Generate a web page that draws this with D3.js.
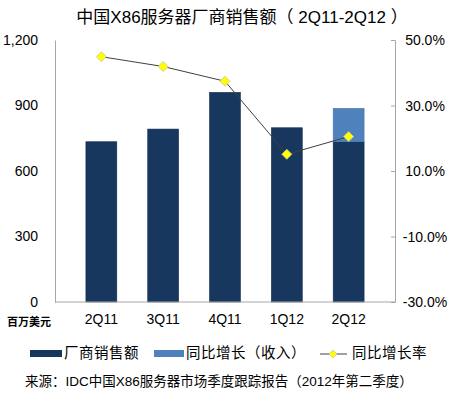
<!DOCTYPE html>
<html>
<head>
<meta charset="utf-8">
<script src="https://cdn.jsdelivr.net/npm/d3@7"></script>
<style>
  body { margin: 0; background: #fff; }
  svg text { font-family: "Liberation Sans", "Noto Sans CJK SC", sans-serif; fill: #000; }
  .axis path, .axis line { stroke: #a6a6a6; }
</style>
</head>
<body>
<div class="chart"></div>
<script>
const width = 460;
const height = 395;
const plot = { left: 55, right: 395, top: 40, bottom: 302 };

// data
const quarters = ['2Q11', '3Q11', '4Q11', '1Q12', '2Q12'];
const sales = [734, 792, 960, 798, 734];      // 厂商销售额 (百万美元)
const growth = [0, 0, 0, 0, 153];             // 同比增长（收入）
const growthRate = [44.9, 41.9, 37.4, 15.1, 20.5]; // 同比增长率 %
const leftTicks = [0, 300, 600, 900, 1200];
const rightTicks = [-30, -10, 10, 30, 50];

const svg = d3.select('.chart').append('svg')
    .attr('width', width)
    .attr('height', height)
    .attr('viewBox', `0 0 ${width} ${height}`);

/*      scales      */
const xScale = d3.scaleBand()
    .range([plot.left, plot.right])
    .domain(quarters)
    .padding(0.5);
const yScale = d3.scaleLinear()
    .range([plot.bottom, plot.top])
    .domain([0, 1200]);
const yScale2 = d3.scaleLinear()
    .range([plot.bottom, plot.top])
    .domain([-30, 50]);

/*      title      */
svg.append('text')
    .attr('x', 242)
    .attr('y', 23)
    .attr('text-anchor', 'middle')
    .style('font-size', '17px')
    .text('中国X86服务器厂商销售额（ 2Q11-2Q12 ）');

/*      bars      */
const barGroups = svg.selectAll('.barGroup')
    .data(quarters)
    .enter()
    .append('g');
barGroups.append('rect')
    .attr('x', d => xScale(d))
    .attr('y', (d, i) => yScale(sales[i]))
    .attr('width', xScale.bandwidth())
    .attr('height', (d, i) => yScale(0) - yScale(sales[i]))
    .attr('fill', '#17375e')
    .attr('stroke', '#142f50')
    .attr('stroke-width', 0.6);
barGroups.filter((d, i) => growth[i] > 0).append('rect')
    .attr('x', d => xScale(d))
    .attr('y', d => { const i = quarters.indexOf(d); return yScale(sales[i] + growth[i]); })
    .attr('width', xScale.bandwidth())
    .attr('height', d => { const i = quarters.indexOf(d); return yScale(sales[i]) - yScale(sales[i] + growth[i]); })
    .attr('fill', '#4f81bd')
    .attr('stroke', '#4a78b0')
    .attr('stroke-width', 0.6);

/*      axes      */
svg.append('g')
    .attr('class', 'axis')
    .attr('transform', `translate(${plot.left},0)`)
    .call(d3.axisLeft(yScale).tickValues(leftTicks).tickSize(0).tickPadding(17).tickFormat(d3.format(',')))
    .call(g => g.selectAll('text').style('font-size', '14px').style('font-family', '"Liberation Sans", sans-serif').attr('fill', '#000'));

svg.append('g')
    .attr('class', 'axis')
    .attr('transform', `translate(${plot.right},0)`)
    .call(d3.axisLeft(yScale2).tickValues(rightTicks).tickSizeInner(4).tickSizeOuter(4).tickFormat(''))
    .call(g => g.selectAll('.tick').append('text')
        .attr('x', 30)
        .attr('dy', '0.35em')
        .attr('text-anchor', 'middle')
        .style('font-size', '14px')
        .style('font-family', '"Liberation Sans", sans-serif')
        .text(d => d.toFixed(1) + '%'));

svg.append('g')
    .attr('class', 'axis')
    .attr('transform', `translate(0,${plot.bottom})`)
    .call(d3.axisBottom(xScale).tickSize(0).tickPadding(12))
    .call(g => g.select('.domain').attr('d', `M${plot.left},0H${plot.right}`))
    .call(g => g.selectAll('text').style('font-size', '14px').style('font-family', '"Liberation Sans", sans-serif').attr('fill', '#000'));

svg.append('text')
    .attr('x', 29)
    .attr('y', 326)
    .attr('text-anchor', 'middle')
    .style('font-size', '11px')
    .style('font-weight', 'bold')
    .text('百万美元');

/*      growth rate line      */
const line = d3.line()
    .x(d => xScale(d) + xScale.bandwidth() / 2)
    .y(d => yScale2(growthRate[quarters.indexOf(d)]));
svg.append('path')
    .datum(quarters)
    .attr('d', line)
    .attr('fill', 'none')
    .attr('stroke', '#404040')
    .attr('stroke-width', 1);
svg.selectAll('.marker')
    .data(quarters)
    .enter()
    .append('path')
    .attr('d', 'M0,-5L5,0L0,5L-5,0Z')
    .attr('transform', (d, i) => `translate(${xScale(d) + xScale.bandwidth() / 2},${yScale2(growthRate[i])})`)
    .attr('fill', '#ffff00')
    .attr('stroke', '#c8c896')
    .attr('stroke-width', 0.8);

/*      legend      */
const legend = svg.append('g').attr('transform', 'translate(0,353)');
legend.append('rect').attr('x', 30).attr('y', -3).attr('width', 32).attr('height', 7).attr('fill', '#17375e');
legend.append('text').attr('x', 64).attr('y', 5).style('font-size', '14.5px').style('letter-spacing', '0.5px').text('厂商销售额');
legend.append('rect').attr('x', 154).attr('y', -3).attr('width', 30).attr('height', 7).attr('fill', '#4f81bd');
legend.append('text').attr('x', 186).attr('y', 5).style('font-size', '14.5px').style('letter-spacing', '0.5px').text('同比增长（收入）');
legend.append('line').attr('x1', 320).attr('x2', 347).attr('y1', 1).attr('y2', 1).attr('stroke', '#404040');
legend.append('path').attr('d', 'M0,-4L4,0L0,4L-4,0Z').attr('transform', 'translate(333,1)')
    .attr('fill', '#ffff00').attr('stroke', '#c8c896').attr('stroke-width', 0.8);
legend.append('text').attr('x', 352).attr('y', 5).style('font-size', '14.5px').style('letter-spacing', '0.5px').text('同比增长率');

/*      source      */
svg.append('text')
    .attr('x', 25)
    .attr('y', 386)
    .style('font-size', '13.5px')
    .text('来源：IDC中国X86服务器市场季度跟踪报告（2012年第二季度）');
</script>
</body>
</html>
